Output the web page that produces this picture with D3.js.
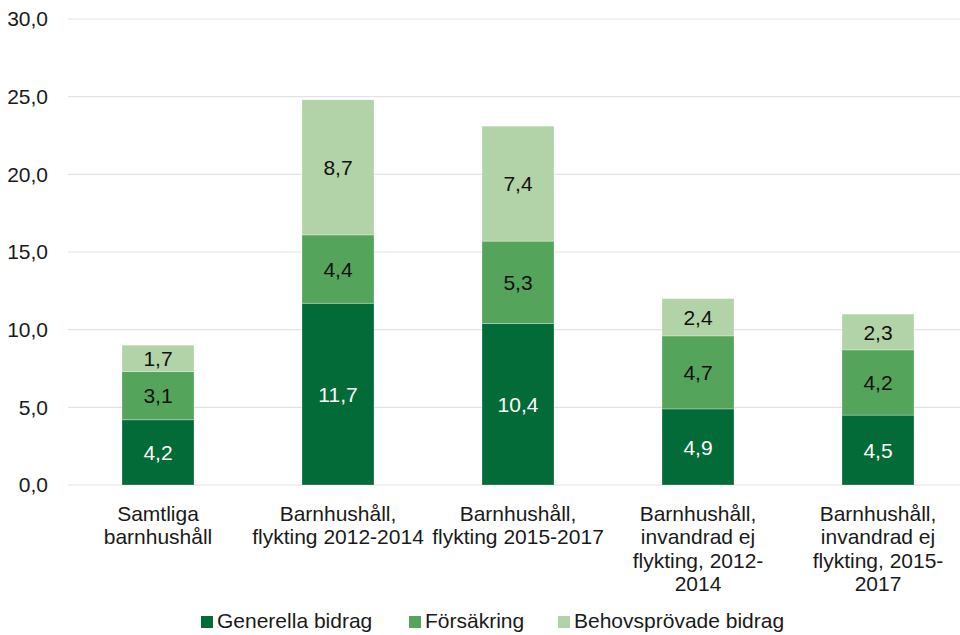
<!DOCTYPE html>
<html>
<head>
<meta charset="utf-8">
<script src="https://cdn.jsdelivr.net/npm/d3@7"></script>
<style>
  body { margin: 0; background: #fff; }
  svg { display: block; font-family: "Liberation Sans", Arial, sans-serif; }
</style>
</head>
<body>
<svg id="chart" width="960" height="635"></svg>
<script>
const categories = [
  ["Samtliga", "barnhushåll"],
  ["Barnhushåll,", "flykting 2012-2014"],
  ["Barnhushåll,", "flykting 2015-2017"],
  ["Barnhushåll,", "invandrad ej", "flykting, 2012-", "2014"],
  ["Barnhushåll,", "invandrad ej", "flykting, 2015-", "2017"]
];
const seriesNames = ["Generella bidrag", "Försäkring", "Behovsprövade bidrag"];
const generella = [4.2, 11.7, 10.4, 4.9, 4.5];
const forsakring = [3.1, 4.4, 5.3, 4.7, 4.2];
const behovsprovade = [1.7, 8.7, 7.4, 2.4, 2.3];
const yTicks = [0, 5, 10, 15, 20, 25, 30];
const colors = ["#036b37", "#55a45b", "#b1d3a7"];
const labelColors = ["#ffffff", "#111111", "#111111"];

const FS = "21px";
const seriesValues = [generella, forsakring, behovsprovade];
const svg = d3.select("#chart");
const fmt = v => d3.format(".1f")(v).replace(".", ",");

const x = d3.scaleBand().domain(d3.range(categories.length))
  .range([68, 968]).paddingInner(0.6).paddingOuter(0.3);
const y = d3.scaleLinear().domain([0, 30]).range([485, 19]);

// grid
svg.append("g").selectAll("line").data(yTicks).join("line")
  .attr("x1", 68).attr("x2", 960)
  .attr("y1", d => y(d)).attr("y2", d => y(d))
  .attr("stroke", "#e4e4e4").attr("stroke-width", 1.2);

// y labels
const yAxis = d3.axisLeft(y).tickValues(yTicks).tickFormat(fmt).tickSize(0).tickPadding(0);
const yg = svg.append("g").attr("transform", "translate(48,0)").call(yAxis);
yg.select(".domain").remove();
yg.selectAll("text").attr("font-size", FS).attr("fill", "#1a1a1a")
  .attr("font-family", "Liberation Sans, Arial, sans-serif");

// stack
const rows = categories.map((c, i) => {
  const o = { i };
  seriesNames.forEach((s, k) => o[s] = seriesValues[k][i]);
  return o;
});
const stacked = d3.stack().keys(seriesNames)(rows);

stacked.forEach((layer, k) => {
  const g = svg.append("g");
  g.selectAll("rect").data(layer).join("rect")
    .attr("x", d => x(d.data.i))
    .attr("width", x.bandwidth())
    .attr("y", d => y(d[1]))
    .attr("height", d => y(d[0]) - y(d[1]))
    .attr("fill", colors[k])
    .attr("stroke", "rgba(255,255,255,0.35)")
    .attr("stroke-width", 0.8);
  g.selectAll("text").data(layer).join("text")
    .attr("x", d => x(d.data.i) + x.bandwidth() / 2)
    .attr("y", d => (y(d[0]) + y(d[1])) / 2)
    .attr("dy", "0.36em")
    .attr("text-anchor", "middle")
    .attr("font-size", FS)
    .attr("fill", labelColors[k])
    .text(d => fmt(d[1] - d[0]));
});

// category labels
const cg = svg.append("g");
categories.forEach((lines, i) => {
  const t = cg.append("text")
    .attr("x", x(i) + x.bandwidth() / 2)
    .attr("y", 521)
    .attr("text-anchor", "middle")
    .attr("font-size", FS)
    .attr("fill", "#1a1a1a");
  lines.forEach((ln, j) => {
    t.append("tspan").attr("x", x(i) + x.bandwidth() / 2)
      .attr("y", 521 + j * 23.4).text(ln);
  });
});

// legend
const legendX = [201, 409, 558];
const lg = svg.append("g");
seriesNames.forEach((s, k) => {
  lg.append("rect").attr("x", legendX[k]).attr("y", 616).attr("width", 12).attr("height", 12)
    .attr("fill", colors[k]);
  lg.append("text").attr("x", legendX[k] + 16).attr("y", 628)
    .attr("font-size", FS).attr("fill", "#1a1a1a").text(s);
});
</script>
</body>
</html>
